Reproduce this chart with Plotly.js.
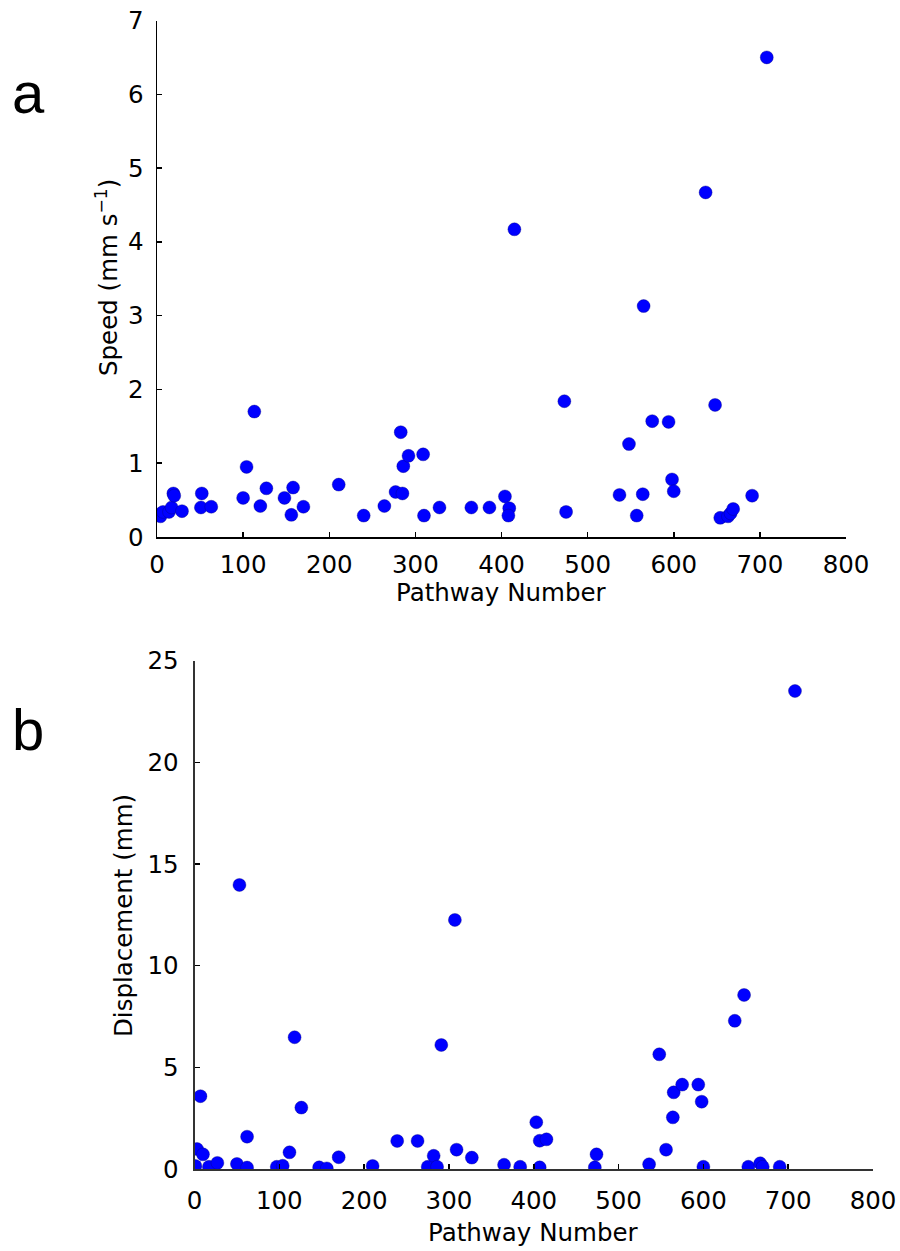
<!DOCTYPE html>
<html>
<head>
<meta charset="utf-8">
<script src="https://cdn.plot.ly/plotly-3.0.1.min.js"></script>
<style>html,body{margin:0;padding:0;background:#fff;}</style>
</head>
<body>
<div id="chart" style="width:900px;height:1251px;"></div>
<script>
// Panel a: speed vs pathway number
const speedX = [2,4,7,14,17,19,20,29,52,51,63,100,104,113,120,127,148,156,158,170,211,240,264,277,285,283,286,292,309,310,328,365,386,404,409,408,415,473,475,537,548,557,564,565,575,594,598,600,637,648,654,663,666,669,691,708];
const speedY = [0.30,0.28,0.34,0.34,0.40,0.59,0.56,0.35,0.59,0.40,0.41,0.53,0.95,1.70,0.42,0.66,0.53,0.30,0.67,0.41,0.71,0.29,0.42,0.61,0.59,1.42,0.96,1.10,1.12,0.29,0.40,0.40,0.40,0.55,0.39,0.29,4.17,1.84,0.34,0.57,1.26,0.29,0.58,3.13,1.57,1.56,0.78,0.62,4.67,1.79,0.26,0.28,0.32,0.38,0.56,6.50];

// Panel b: displacement vs pathway number
const dispX = [1,3,7,10,17,27,50,53,62,62,97,104,112,118,126,147,156,170,210,239,263,275,282,286,291,307,309,327,365,384,403,407,415,407,472,474,536,548,556,564,565,575,594,598,600,637,648,653,667,670,690,708];
const dispY = [0.15,0.98,3.58,0.72,0.11,0.30,0.25,13.97,1.59,0.07,0.11,0.16,0.82,6.48,3.02,0.08,0.03,0.58,0.15,1.38,1.38,0.11,0.65,0.11,6.10,12.25,0.95,0.56,0.21,0.11,2.30,1.39,1.46,0.08,0.08,0.72,0.23,5.64,0.95,2.54,3.77,4.15,4.15,3.31,0.11,7.29,8.56,0.11,0.28,0.11,0.11,23.51];

const xTicks = [0,100,200,300,400,500,600,700,800];
const speedTicks = [0,1,2,3,4,5,6,7];
const dispTicks = [0,5,10,15,20,25];

const W = 900, H = 1251;
const px = v => v / W;
const py = v => 1 - v / H;

const marker = {color: '#0000ff', size: 13, line: {color: 'rgba(0,0,120,0.6)', width: 0.6}};

const traces = [
  {x: speedX, y: speedY, type: 'scatter', mode: 'markers', marker: marker, xaxis: 'x', yaxis: 'y', hoverinfo: 'skip'},
  {x: dispX, y: dispY, type: 'scatter', mode: 'markers', marker: marker, xaxis: 'x2', yaxis: 'y2', hoverinfo: 'skip'}
];

const FS = 24.5;
const tickFont = {family: 'DejaVu Sans', size: FS, color: '#000'};
function axis(opts) {
  return Object.assign({
    showgrid: false, zeroline: false, showline: true, linewidth: 1.5, linecolor: '#000',
    ticks: 'inside', ticklen: 5, tickwidth: 1.5, tickcolor: '#000',
    tickfont: tickFont, fixedrange: true, mirror: false
  }, opts);
}

const layout = {
  width: W, height: H,
  margin: {l: 0, r: 0, t: 0, b: 0},
  paper_bgcolor: '#fff', plot_bgcolor: '#fff',
  showlegend: false,
  xaxis: axis({domain: [px(157), px(846)], range: [0, 800], tickvals: xTicks, anchor: 'y', ticklabelstandoff: 5}),
  yaxis: axis({domain: [py(537), py(20.5)], range: [0, 7], tickvals: speedTicks, anchor: 'x', ticklabelstandoff: 7}),
  xaxis2: axis({domain: [px(194.5), px(873)], range: [0, 800], tickvals: xTicks, anchor: 'y2', ticklabelstandoff: 9, linewidth: 2, linecolor: '#333'}),
  yaxis2: axis({domain: [py(1169), py(660.7)], range: [0, 25], tickvals: dispTicks, anchor: 'x2', ticklabelstandoff: 9, linewidth: 2, linecolor: '#333'}),
  annotations: [
    {text: 'a', xref: 'paper', yref: 'paper', x: px(10), y: py(92), xanchor: 'left', yanchor: 'middle', showarrow: false, font: {family: 'Liberation Sans', size: 58, color: '#000'}},
    {text: 'b', xref: 'paper', yref: 'paper', x: px(10), y: py(729), xanchor: 'left', yanchor: 'middle', showarrow: false, font: {family: 'Liberation Sans', size: 58, color: '#000'}},
    {text: 'Pathway Number', xref: 'paper', yref: 'paper', x: px(501.5), y: py(592), xanchor: 'center', yanchor: 'middle', showarrow: false, font: {family: 'DejaVu Sans', size: FS, color: '#000'}},
    {text: 'Pathway Number', xref: 'paper', yref: 'paper', x: px(533.7), y: py(1232), xanchor: 'center', yanchor: 'middle', showarrow: false, font: {family: 'DejaVu Sans', size: FS, color: '#000'}},
    {text: 'Speed (mm s<sup>−1</sup>)', xref: 'paper', yref: 'paper', x: px(107), y: py(278), xanchor: 'center', yanchor: 'middle', textangle: -90, showarrow: false, font: {family: 'DejaVu Sans', size: FS, color: '#000'}},
    {text: 'Displacement (mm)', xref: 'paper', yref: 'paper', x: px(123), y: py(915), xanchor: 'center', yanchor: 'middle', textangle: -90, showarrow: false, font: {family: 'DejaVu Sans', size: FS, color: '#000'}}
  ]
};

Plotly.newPlot('chart', traces, layout, {displayModeBar: false, staticPlot: true});
</script>
</body>
</html>
